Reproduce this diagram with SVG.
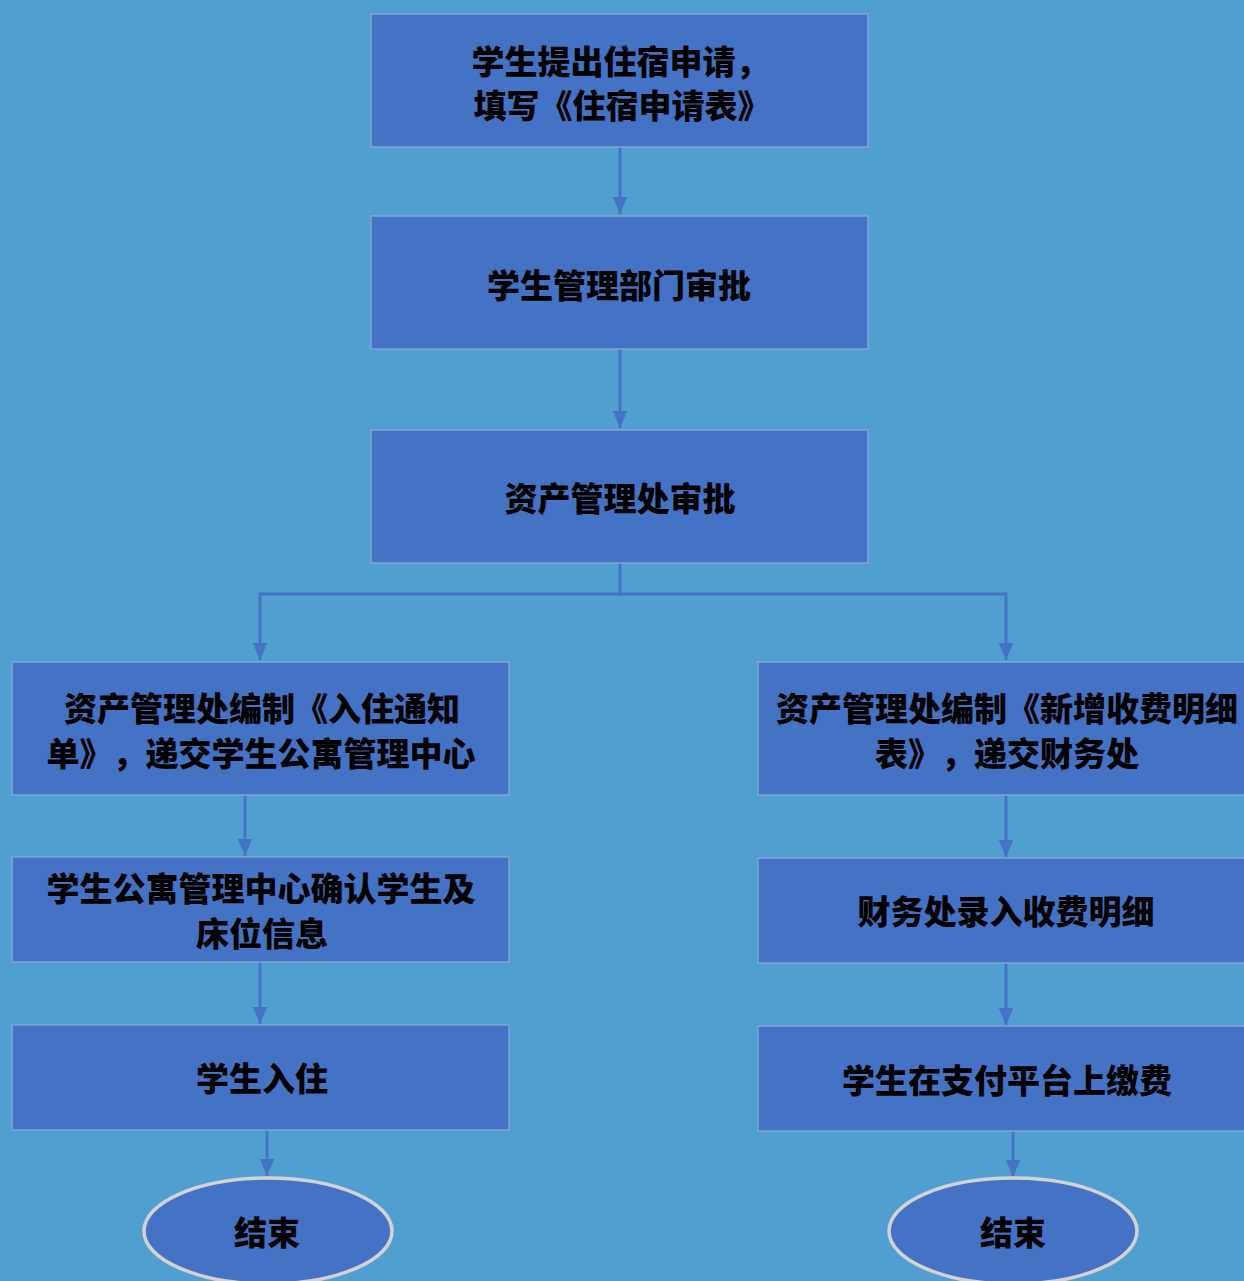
<svg xmlns="http://www.w3.org/2000/svg" width="1244" height="1281" viewBox="0 0 1244 1281">
<defs>
<marker id="ah" markerWidth="17" markerHeight="20" refX="20" refY="8.5" orient="auto" markerUnits="userSpaceOnUse" viewBox="0 0 20 17">
<path d="M0,0 L20,8.5 L0,17 Z" fill="#4472C4"/>
</marker>
<style>
.box{fill:#4472C4;stroke:#8FAADC;stroke-width:1.2}
.end{fill:#4472C4;stroke:#D3D3D3;stroke-width:3.5}
.t{font-family:"Noto Sans CJK SC","Noto Sans CJK JP",sans-serif;font-weight:900;font-size:33px;fill:#000;text-anchor:middle;dominant-baseline:central;text-spacing-trim:space-all;font-feature-settings:"palt" 0,"halt" 0}
.c{fill:none;stroke:#4472C4;stroke-width:2.8}
</style>
</defs>
<rect x="0" y="0" width="1244" height="1281" fill="#519ED0"/>
<g id="connectors">
<path class="c" d="M620,147 V214" marker-end="url(#ah)"/>
<path class="c" d="M620,349 V428" marker-end="url(#ah)"/>
<path class="c" d="M620,563 V594 H260 V660" marker-end="url(#ah)"/>
<path class="c" d="M620,594 H1006 V660" marker-end="url(#ah)"/>
<path class="c" d="M245,795 V856" marker-end="url(#ah)"/>
<path class="c" d="M260,962 V1024" marker-end="url(#ah)"/>
<path class="c" d="M267,1130 V1176" marker-end="url(#ah)"/>
<path class="c" d="M1006,795 V857" marker-end="url(#ah)"/>
<path class="c" d="M1006,963 V1025" marker-end="url(#ah)"/>
<path class="c" d="M1013,1131 V1177" marker-end="url(#ah)"/>
</g>
<g id="n1"><rect class="box" x="371" y="14" width="497" height="133"/>
<text class="t" x="620" y="60">学生提出住宿申请，</text>
<text class="t" x="622" y="104">填写《住宿申请表》</text></g>
<g id="n2"><rect class="box" x="371" y="216" width="497" height="133"/>
<text class="t" x="619" y="284">学生管理部门审批</text></g>
<g id="n3"><rect class="box" x="371" y="430" width="497" height="133"/>
<text class="t" x="620" y="497">资产管理处审批</text></g>
<g id="l1"><rect class="box" x="12" y="662" width="497" height="133"/>
<text class="t" x="262" y="707">资产管理处编制《入住通知</text>
<text class="t" x="261" y="752">单》，递交学生公寓管理中心</text></g>
<g id="l2"><rect class="box" x="12" y="857" width="497" height="105"/>
<text class="t" x="261" y="887">学生公寓管理中心确认学生及</text>
<text class="t" x="262" y="932">床位信息</text></g>
<g id="l3"><rect class="box" x="12" y="1025" width="497" height="105"/>
<text class="t" x="262" y="1077">学生入住</text></g>
<g id="r1"><rect class="box" x="758" y="662" width="500" height="133"/>
<text class="t" x="1007" y="707">资产管理处编制《新增收费明细</text>
<text class="t" x="1007" y="752">表》，递交财务处</text></g>
<g id="r2"><rect class="box" x="758" y="858" width="500" height="105"/>
<text class="t" x="1006" y="910">财务处录入收费明细</text></g>
<g id="r3"><rect class="box" x="758" y="1026" width="500" height="105"/>
<text class="t" x="1007" y="1079">学生在支付平台上缴费</text></g>
<g id="e1"><ellipse class="end" cx="268" cy="1231" rx="124" ry="53"/>
<text class="t" x="267" y="1231">结束</text></g>
<g id="e2"><ellipse class="end" cx="1013" cy="1231" rx="124" ry="53"/>
<text class="t" x="1013" y="1231">结束</text></g>
</svg>
